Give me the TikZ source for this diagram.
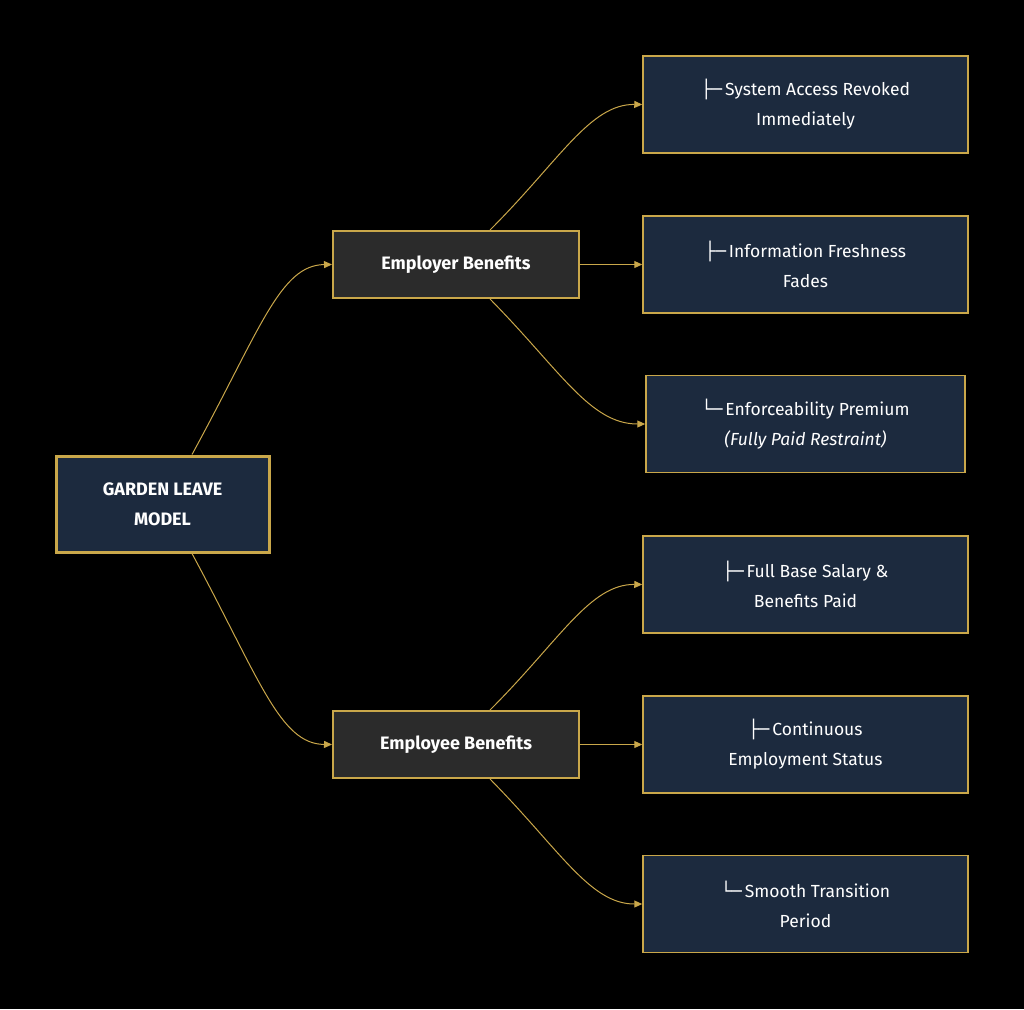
\documentclass[tikz,border=0pt]{standalone}
\usepackage{fontspec}
\setmainfont{Fira Sans}
\newfontfamily\boxf{DejaVu Sans}
\usetikzlibrary{arrows.meta}
\definecolor{gold}{HTML}{C9A74A}
\definecolor{navy}{HTML}{1C2A3E}
\definecolor{dgray}{HTML}{2B2B2B}
\tikzset{
  every node/.style={text=white,align=center,inner sep=0pt},
  leaf/.style={draw=gold,line width=1.5pt,fill=navy,minimum width=325pt,minimum height=97pt,font=\fontsize{17.5}{30}\selectfont},
  mid/.style={draw=gold,line width=2pt,fill=dgray,minimum width=246pt,minimum height=67pt,font=\fontsize{18}{30}\selectfont\bfseries},
  root/.style={draw=gold,line width=3pt,fill=navy,minimum width=213pt,minimum height=96pt,font=\fontsize{18}{30}\selectfont\bfseries},
  edge/.style={draw=gold,line width=1pt,-{Triangle[length=8pt,width=7pt]}}
}
\begin{document}
\begin{tikzpicture}[x=1pt,y=-1pt]
\fill[black] (0,0) rectangle (1024,1009);
\useasboundingbox (0,0) rectangle (1024,1009);
\node[root] (g) at (162.5,504) {GARDEN LEAVE\\MODEL};
\node[mid] (er) at (456,264.5) {Employer Benefits};
\node[mid] (ee) at (456,744.5) {Employee Benefits};
\node[leaf] (a1) at (805.5,104.5) {{\boxf ├─}\,System Access Revoked\\Immediately};
\node[leaf] (a2) at (805.5,264.5) {{\boxf ├─}\,Information Freshness\\Fades};
\node[leaf,minimum width=319pt] (a3) at (805.5,424) {{\boxf └─}\,Enforceability Premium\\\itshape(Fully Paid Restraint)};
\node[leaf] (b1) at (805.5,584.5) {{\boxf ├─}\,Full Base Salary \&\\Benefits Paid};
\node[leaf] (b2) at (805.5,744.5) {{\boxf ├─}\,Continuous\\Employment Status};
\node[leaf] (b3) at (805.5,904) {{\boxf └─}\,Smooth Transition\\Period};
\draw[edge] ([xshift=29.5pt]g.north) .. controls (260,330) and (280,265) .. (er.west);
\draw[edge] ([xshift=29.5pt]g.south) .. controls (260,680) and (280,744) .. (ee.west);
\draw[edge] ([xshift=34pt]er.north) .. controls (560,160) and (590,104) .. (a1.west);
\draw[edge] (er.east) -- (a2.west);
\draw[edge] ([xshift=34pt]er.south) .. controls (560,370) and (590,424) .. (a3.west);
\draw[edge] ([xshift=34pt]ee.north) .. controls (560,640) and (590,584) .. (b1.west);
\draw[edge] (ee.east) -- (b2.west);
\draw[edge] ([xshift=34pt]ee.south) .. controls (560,850) and (590,904) .. (b3.west);
\end{tikzpicture}
\end{document}
